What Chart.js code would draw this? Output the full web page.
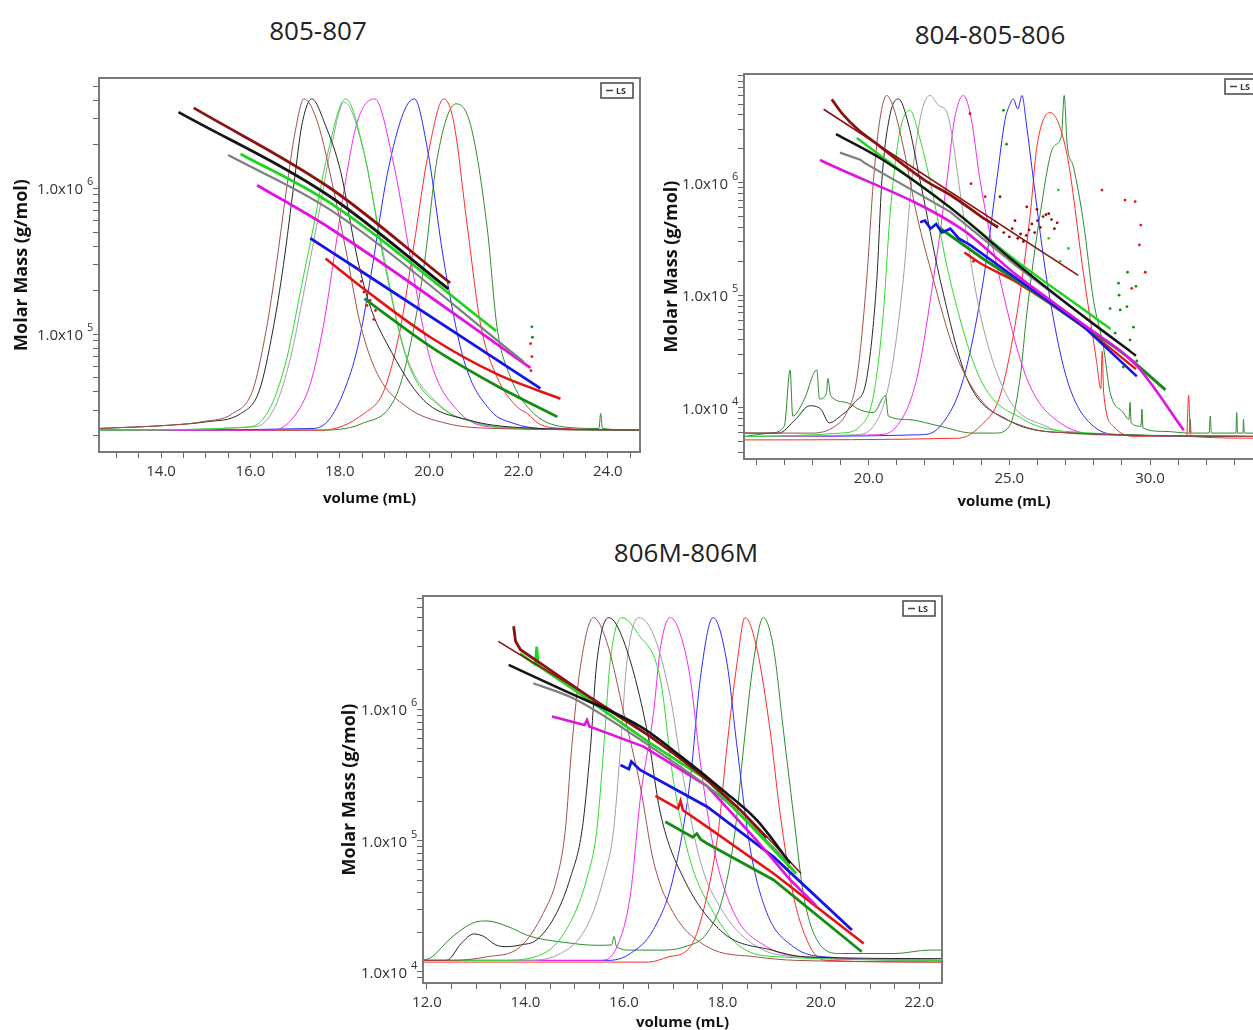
<!DOCTYPE html>
<html>
<head>
<meta charset="utf-8">
<script src="https://cdn.jsdelivr.net/npm/chart.js@4.4.0/dist/chart.umd.min.js"></script>
<style>
  html, body { margin: 0; padding: 0; background: #fff; overflow: hidden; width: 1253px; height: 1030px; }
  canvas { position: absolute; }
  .title { position: absolute; font-family: "Open Sans", sans-serif; font-size: 26px; line-height: 30px;
           color: #222; transform: translateX(-50%); white-space: nowrap; }
</style>
</head>
<body>
<div class="title" style="left:318px; top:15px">805-807</div>
<div class="title" style="left:990px; top:19px">804-805-806</div>
<div class="title" style="left:686px; top:537px">806M-806M</div>
<canvas id="c1" width="648" height="447" style="left:7px; top:65px"></canvas>
<canvas id="c2" width="622" height="454" style="left:657px; top:61px"></canvas>
<canvas id="c3" width="622" height="453" style="left:335px; top:583px"></canvas>
<script>
// ===== panel 1 : 805-807 =====
const p1XTicks = [13, 13.5, 14, 14.5, 15, 15.5, 16, 16.5, 17, 17.5, 18, 18.5, 19, 19.5, 20, 20.5, 21, 21.5, 22, 22.5, 23, 23.5, 24, 24.5];
const p1XLabels = [14, 16, 18, 20, 22, 24];

// LS traces (relative signal, 0 = baseline, 1 = peak top)
const p1LsBrown = [[12.6,0.005],[14.2,0.015],[14.9,0.025],[15.6,0.05],[16.05,0.12],[16.35,0.3],[16.58,0.5],[16.8,0.72],[17.0,0.9],[17.2,1.0],[17.5,0.93],[17.87,0.72],[18.17,0.52],[18.46,0.32],[18.84,0.17],[19.5,0.07],[20.4,0.02],[21.5,0.005],[24.72,0]];
const p1LsBlack = [[12.6,0.005],[14.2,0.015],[15.0,0.025],[15.78,0.05],[16.2,0.12],[16.5,0.3],[16.74,0.5],[16.98,0.75],[17.15,0.92],[17.37,1.0],[17.68,0.92],[18.02,0.78],[18.39,0.52],[18.69,0.37],[19.06,0.26],[19.88,0.09],[20.9,0.03],[22.0,0.008],[24.72,0]];
const p1LsGrey = [[12.6,0],[16.1,0.01],[16.55,0.07],[16.9,0.22],[17.2,0.42],[17.5,0.63],[17.8,0.85],[18.1,0.99],[18.5,0.86],[18.95,0.55],[19.45,0.24],[20.2,0.08],[21.1,0.02],[22.0,0.005],[24.72,0]];
const p1LsLime = [[12.6,0],[16.0,0.01],[16.45,0.07],[16.82,0.22],[17.12,0.42],[17.42,0.62],[17.72,0.83],[18.13,1.0],[18.54,0.84],[18.99,0.51],[19.51,0.21],[20.26,0.07],[21.15,0.02],[22.0,0.005],[24.72,0]];
const p1LsMagenta = [[12.6,0],[16.5,0.0],[16.97,0.04],[17.34,0.14],[17.64,0.32],[17.87,0.52],[18.09,0.72],[18.39,0.93],[18.78,1.0],[19.21,0.8],[19.66,0.46],[20.03,0.21],[20.63,0.06],[21.37,0.01],[24.72,0]];
const p1LsBlue = [[12.6,0],[17.4,0.005],[17.75,0.03],[18.1,0.12],[18.4,0.25],[18.7,0.47],[19.06,0.77],[19.43,0.96],[19.67,1.0],[19.96,0.85],[20.33,0.51],[20.78,0.21],[21.37,0.06],[21.9,0.02],[22.5,0.005],[24.72,0]];
const p1LsRed = [[12.6,0],[17.6,0.0],[18.54,0.05],[18.99,0.12],[19.36,0.31],[19.66,0.56],[19.96,0.82],[20.33,1.0],[20.55,0.93],[20.85,0.62],[21.15,0.32],[21.52,0.16],[21.97,0.07],[22.2,0.05],[22.45,0.02],[23.0,0.005],[24.72,0]];
const p1LsDarkGreen = [[12.6,0],[17.5,0.0],[18.5,0.02],[19.28,0.11],[19.66,0.31],[19.9,0.51],[20.18,0.82],[20.6,0.985],[20.93,0.92],[21.3,0.61],[21.52,0.31],[21.82,0.16],[22.27,0.06],[23.0,0.01],[23.8,0.005],[23.84,0.05],[23.88,0.005],[24.72,0]];

// molar mass (g/mol)
const p1MmDarkRed = [[14.73,3.56e6],[17.79,1.0e6],[20.47,2.24e5]];
const p1MmBlack = [[14.39,3.33e6],[17.79,8.75e5],[20.43,2.04e5]];
const p1MmGrey = [[15.5,1.69e6],[17.79,7.1e5],[22.12,6.45e4]];
const p1MmLime = [[15.78,1.72e6],[17.79,7.9e5],[21.5,1.05e5]];
const p1MmMagenta = [[16.15,1.05e6],[17.79,5.3e5],[22.27,5.85e4]];
const p1MmBlue = [[17.34,4.54e5],[18.54,2.62e5],[22.49,4.24e4]];
const p1MmRed = [[17.68,3.3e5],[18.69,1.88e5],[20.03,9.5e4],[21.52,5.3e4],[22.94,3.6e4]];
const p1MmDarkGreen = [[18.55,1.75e5],[20.03,8.2e4],[21.52,4.4e4],[22.87,2.7e4]];
const p1DotsRed = [[18.43,2.8e5],[18.48,2.3e5],[18.54,1.94e5],[18.61,1.57e5],[18.68,1.7e5],[18.76,1.26e5],[18.8,1.45e5],[22.27,8.6e4],[22.3,7.0e4],[22.28,5.6e4]];
const p1DotsDarkGreen = [[22.3,1.12e5],[22.31,9.5e4]];

// ===== panel 2 : 804-805-806 =====
const p2XTicks = [16, 17, 18, 19, 20, 21, 22, 23, 24, 25, 26, 27, 28, 29, 30, 31, 32, 33, 34];
const p2XLabels = [20, 25, 30];

const p2LsBrown = [[15.57,0.01],[18.0,0.01],[18.8,0.03],[19.22,0.07],[19.58,0.17],[19.93,0.46],[20.17,0.75],[20.4,0.93],[20.64,1.0],[20.9,0.96],[21.23,0.85],[21.71,0.65],[22.3,0.46],[23.01,0.26],[23.96,0.11],[25.5,0.03],[27.3,0.01],[34.05,0.0]];
const p2LsBlack = [[15.57,0.01],[16.8,0.01],[17.4,0.05],[17.9,0.09],[18.3,0.08],[18.6,0.04],[19.0,0.06],[19.5,0.1],[19.93,0.17],[20.29,0.46],[20.47,0.75],[20.75,0.94],[21.06,0.99],[21.4,0.92],[21.83,0.75],[22.54,0.46],[23.49,0.17],[24.91,0.05],[27.3,0.01],[34.05,0.0]];
const p2LsLime = [[15.57,0.0],[19.0,0.01],[19.7,0.03],[20.17,0.12],[20.52,0.36],[20.76,0.65],[21.1,0.89],[21.47,0.956],[21.8,0.88],[22.18,0.75],[22.89,0.46],[23.96,0.17],[25.5,0.05],[27.0,0.015],[34.05,0]];
const p2LsGrey = [[15.57,0],[19.5,0.005],[20.17,0.03],[20.76,0.17],[21.23,0.46],[21.53,0.75],[21.85,0.94],[22.18,1.0],[22.5,0.97],[22.78,0.95],[23.37,0.65],[23.96,0.36],[24.91,0.12],[26.3,0.03],[28.0,0.005],[34.05,0]];
const p2LsMagenta = [[15.57,0],[20.3,0.005],[21.0,0.03],[21.71,0.17],[22.3,0.46],[22.78,0.75],[23.05,0.93],[23.37,1.0],[23.65,0.93],[23.96,0.75],[24.67,0.46],[25.62,0.17],[26.8,0.04],[28.5,0.005],[34.05,0]];
const p2LsBlue = [[15.57,0],[21.8,0.005],[22.54,0.03],[23.37,0.17],[24.08,0.46],[24.55,0.75],[24.85,0.93],[25.0,0.97],[25.14,0.99],[25.3,0.96],[25.45,1.0],[25.6,0.92],[25.86,0.75],[26.33,0.46],[27.04,0.17],[27.99,0.03],[29.0,0.005],[34.05,0]];
const p2LsRed = [[15.57,-0.01],[23.2,-0.005],[23.96,0.03],[24.67,0.12],[25.27,0.36],[25.74,0.65],[25.98,0.85],[26.45,0.95],[27.04,0.83],[27.63,0.48],[28.1,0.22],[28.25,0.14],[28.3,0.25],[28.35,0.13],[28.7,0.03],[29.5,0.0],[31.3,0.0],[31.37,0.12],[31.44,0.0],[34.05,-0.005]];
const p2LsDarkGreen = [[15.57,0.0],[16.5,0.01],[17.0,0.03],[17.21,0.195],[17.3,0.06],[17.7,0.107],[18.16,0.195],[18.25,0.11],[18.5,0.127],[18.55,0.17],[18.65,0.12],[19.2,0.1],[19.7,0.078],[20.17,0.07],[20.6,0.12],[20.7,0.06],[21.35,0.05],[22.54,0.03],[23.7,0.01],[24.5,0.01],[25.0,0.03],[25.38,0.17],[25.62,0.36],[26.09,0.65],[26.57,0.85],[26.85,0.88],[26.95,1.0],[27.05,0.86],[27.28,0.79],[27.63,0.63],[27.99,0.4],[28.35,0.26],[28.58,0.13],[29.05,0.07],[29.25,0.05],[29.29,0.1],[29.33,0.04],[29.68,0.03],[29.71,0.08],[29.75,0.025],[30.5,0.015],[31.4,0.01],[31.43,0.05],[31.46,0.01],[32.1,0.01],[32.14,0.06],[32.18,0.01],[33.05,0.01],[33.08,0.07],[33.11,0.01],[33.3,0.01],[33.32,0.05],[33.35,0.01],[34.05,0.01]];

const p2MmDarkRedFit = [[18.4,4.5e6],[27.45,1.5e5]];
const p2MmDarkRed = [[18.69,5.5e6],[19.1,4.0e6],[19.6,3.0e6],[20.3,2.2e6],[21.0,1.6e6],[22.0,1.05e6],[23.0,7.5e5],[24.0,5.0e5],[24.6,4.0e5]];
const p2MmBlack = [[18.84,2.7e6],[20.5,1.6e6],[22.9,6.0e5],[25.27,1.9e5],[27.63,6.5e4],[29.5,2.9e4]];
const p2MmGrey = [[18.98,1.85e6],[19.7,1.6e6],[19.85,1.5e6],[22.9,5.5e5],[25.27,1.8e5],[27.63,6.5e4],[29.3,3.2e4]];
const p2MmLime = [[19.58,2.5e6],[21.0,1.35e6],[22.9,6.0e5],[25.27,2.0e5],[27.63,7.5e4],[28.6,5.0e4]];
const p2MmMagenta = [[18.27,1.59e6],[23.26,3.95e5],[25.27,1.5e5],[27.63,5.5e4],[29.5,2.4e4],[31.2,6.3e3]];
const p2MmBlue = [[21.83,4.45e5],[22.0,4.6e5],[22.2,3.9e5],[22.4,4.3e5],[22.6,3.6e5],[22.9,3.9e5],[23.2,3.2e5],[23.6,2.8e5],[25.27,1.4e5],[27.63,5.3e4],[29.53,1.9e4]];
const p2MmRed = [[23.4,2.4e5],[24.0,1.9e5],[25.27,1.3e5],[27.63,5.2e4],[29.5,2.2e4]];
const p2MmDarkGreen = [[22.5,4.0e5],[24.08,2.1e5],[25.27,1.35e5],[27.63,5.3e4],[29.0,3.1e4],[30.55,1.44e4]];
const p2DotsRed = [[23.6,4.1e6],[23.64,9.8e5],[24.14,7.5e5],[23.72,2.0e5],[28.29,8.6e5],[29.11,7.0e5],[29.47,6.8e5],[29.67,4.2e5],[29.62,2.8e5],[29.83,1.6e5],[29.35,1.15e5]];
const p2DotsDarkGreen = [[28.88,1.28e5],[28.94,7.4e4],[29.18,7.9e4],[29.41,5.2e4],[29.29,4.0e4],[28.76,4.6e4],[29.53,2.6e4],[29.05,2.3e4],[28.58,7.6e4],[29.5,1.2e5],[28.9,1.0e5],[29.2,1.6e5],[24.79,4.4e6],[24.9,2.2e6]];
const p2DotsDarkRed = [[24.67,7.5e5],[24.55,4.1e5],[25.62,6.1e5],[25.98,5.8e5],[25.2,4.6e5],[26.3,5.2e5],[24.8,3.6e5],[25.0,3.3e5],[25.1,3.9e5],[25.3,3.2e5],[25.4,3.5e5],[25.5,3.0e5],[25.6,3.4e5],[25.7,3.8e5],[25.8,4.3e5],[25.9,3.6e5],[26.0,4.6e5],[26.1,4.0e5],[26.2,5.0e5],[26.4,5.3e5],[26.5,4.7e5],[26.6,3.9e5],[26.7,4.4e5]];
const p2DotsLime = [[26.74,8.6e5],[26.4,3.2e5],[26.8,2.0e5],[27.1,2.6e5]];

// ===== panel 3 : 806M-806M =====
const p3XTicks = [12, 12.5, 13, 13.5, 14, 14.5, 15, 15.5, 16, 16.5, 17, 17.5, 18, 18.5, 19, 19.5, 20, 20.5, 21, 21.5, 22];
const p3XLabels = [12, 14, 16, 18, 20, 22];

const p3LsBrown = [[11.92,0],[12.5,0.0],[13.2,0.01],[13.9,0.04],[14.37,0.14],[14.64,0.24],[14.81,0.38],[14.94,0.62],[15.11,0.85],[15.38,1.0],[15.65,0.93],[16.0,0.72],[16.33,0.51],[16.6,0.29],[17.0,0.14],[17.69,0.04],[18.7,0.01],[19.5,0.0],[22.46,-0.005]];
const p3LsBlack = [[11.92,0],[12.4,0.0],[12.7,0.05],[12.95,0.077],[13.15,0.07],[13.4,0.045],[13.62,0.04],[13.9,0.045],[14.23,0.06],[14.64,0.14],[14.91,0.24],[15.15,0.38],[15.32,0.62],[15.45,0.87],[15.69,1.0],[16.0,0.93],[16.47,0.67],[16.74,0.43],[17.21,0.24],[18.02,0.08],[19.0,0.03],[19.7,0.01],[22.46,0.005]];
const p3LsLime = [[11.92,0],[13.5,0.0],[14.37,0.02],[14.91,0.11],[15.25,0.24],[15.45,0.38],[15.59,0.62],[15.72,0.87],[15.96,1.0],[16.3,0.95],[16.74,0.82],[17.0,0.53],[17.35,0.29],[17.82,0.14],[18.36,0.04],[19.2,0.01],[22.46,0]];
const p3LsGrey = [[11.92,0],[14.0,0],[14.64,0.015],[15.25,0.1],[15.59,0.24],[15.79,0.38],[15.93,0.62],[16.06,0.87],[16.3,1.0],[16.6,0.95],[16.94,0.77],[17.21,0.53],[17.55,0.29],[18.02,0.14],[18.7,0.04],[19.6,0.01],[22.46,0]];
const p3LsMagenta = [[11.92,0],[15.5,0.0],[15.86,0.04],[16.13,0.19],[16.34,0.48],[16.6,0.72],[16.74,0.91],[16.94,1.0],[17.15,0.95],[17.35,0.82],[17.55,0.58],[17.82,0.33],[18.23,0.14],[18.9,0.04],[19.7,0.01],[22.46,0]];
const p3LsBlue = [[11.92,0],[15.7,0.0],[16.13,0.02],[16.6,0.09],[17.0,0.24],[17.35,0.53],[17.55,0.82],[17.81,1.0],[18.09,0.87],[18.3,0.62],[18.56,0.33],[18.9,0.14],[19.44,0.04],[20.1,0.01],[22.46,0]];
const p3LsRed = [[11.92,-0.005],[16.5,-0.005],[16.9,0.01],[17.35,0.04],[17.69,0.19],[17.92,0.38],[18.09,0.62],[18.3,0.87],[18.46,1.0],[18.7,0.91],[18.97,0.67],[19.17,0.43],[19.44,0.19],[19.78,0.04],[20.1,0.0],[22.46,-0.005]];
const p3LsDarkGreen = [[11.92,0.0],[12.1,0.01],[12.47,0.063],[12.95,0.11],[13.22,0.115],[13.62,0.1],[14.1,0.07],[14.77,0.053],[15.45,0.044],[15.75,0.045],[15.8,0.07],[15.85,0.04],[16.13,0.03],[16.8,0.03],[17.24,0.04],[17.69,0.08],[18.02,0.19],[18.26,0.38],[18.43,0.62],[18.63,0.87],[18.83,1.0],[19.04,0.91],[19.24,0.67],[19.44,0.43],[19.65,0.19],[19.92,0.06],[20.39,0.02],[21.5,0.02],[22.2,0.03],[22.46,0.03]];

const p3MmDarkRedFit = [[13.45,3.3e6],[16.54,6.2e5],[18.37,1.7e5],[19.6,5.6e4]];
const p3MmDarkRed = [[13.76,4.3e6],[13.8,3.3e6],[13.9,2.85e6],[14.5,2.0e6],[15.5,1.1e6],[16.54,6.2e5],[17.5,3.4e5],[18.37,1.7e5],[18.9,1.05e5]];
const p3MmBlack = [[13.66,2.18e6],[14.77,1.4e6],[16.33,7.4e5],[17.15,4.4e5],[18.02,2.4e5],[18.7,1.43e5],[19.38,6.7e4]];
const p3MmGrey = [[14.16,1.58e6],[15.0,1.2e6],[16.54,5.2e5],[18.0,2.1e5],[19.3,7.0e4]];
const p3MmLime = [[13.89,2.67e6],[14.2,2.2e6],[14.23,3.0e6],[14.26,2.15e6],[15.0,1.4e6],[16.54,5.5e5],[17.69,2.9e5],[19.5,5.6e4]];
const p3MmMagenta = [[14.54,8.8e5],[15.2,7.6e5],[15.25,8.3e5],[15.3,7.4e5],[16.4,5.2e5],[17.69,2.6e5],[18.7,1.0e5],[19.38,5.0e4],[19.9,3.2e4]];
const p3MmBlue = [[15.93,3.76e5],[16.1,3.5e5],[16.15,4.0e5],[16.33,3.45e5],[17.69,1.81e5],[19.04,7.5e4],[20.63,2.08e4]];
const p3MmRed = [[16.64,2.19e5],[17.1,1.75e5],[17.15,2.0e5],[17.2,1.7e5],[17.69,1.27e5],[19.04,5.6e4],[20.87,1.64e4]];
const p3MmDarkGreen = [[16.84,1.39e5],[17.4,1.06e5],[17.48,1.13e5],[17.56,1.02e5],[17.69,9.5e4],[19.04,5.0e4],[20.83,1.42e4]];

// ===== styles =====
const lsColors = { brown: "#a3504a", black: "#262626", grey: "#a0a0a0", lime: "#2add2a", magenta: "#f229f2",
                   blue: "#2a2aff", red: "#ff2a2a", darkgreen: "#2e8a2e" };
const mmColors = { darkred: "#8c1212", black: "#141414", grey: "#7f7f7f", lime: "#1fd41f", magenta: "#e014e0",
                   blue: "#1414e6", red: "#e41414", darkgreen: "#168c16" };
const FONT = '"Open Sans", "DejaVu Sans", sans-serif';

const pts = arr => arr.map(([x, y]) => ({ x, y }));

function lsSet(key, arr) {
  return { data: pts(arr), yAxisID: "ls", borderColor: lsColors[key], borderWidth: 1, pointRadius: 0,
           cubicInterpolationMode: "monotone", order: 2 };
}
// smooth = true for fitted curves, false where the trace has sharp blips
function mmSet(key, arr, width, smooth = true) {
  const ds = { data: pts(arr), yAxisID: "y", borderColor: mmColors[key], borderWidth: width, pointRadius: 0,
               tension: 0, order: 0 };
  if (smooth) ds.cubicInterpolationMode = "monotone";
  return ds;
}
function dotSet(key, arr) {
  return { data: pts(arr), yAxisID: "y", showLine: false, pointRadius: 1.4, pointBorderWidth: 0,
           pointBackgroundColor: mmColors[key], borderColor: mmColors[key], order: 0 };
}

function logTicks(min, max) {
  const out = [];
  for (let e = Math.floor(Math.log10(min)); e <= Math.ceil(Math.log10(max)); e++) {
    for (let m = 1; m <= 9; m++) {
      const v = m * Math.pow(10, e);
      if (v >= min && v <= max) out.push(v);
    }
  }
  return out;
}

// frame round the plot area
const frame = {
  id: "frame",
  afterDatasetsDraw(chart) {
    const { ctx, chartArea: a } = chart;
    ctx.save();
    ctx.strokeStyle = "#7a7a7a";
    ctx.lineWidth = 2;
    ctx.strokeRect(a.left, a.top, a.right - a.left, a.bottom - a.top);
    ctx.restore();
  }
};

// "1.0x10" with a raised exponent on every decade
const decadeLabels = {
  id: "decadeLabels",
  afterDraw(chart) {
    const { ctx, chartArea: a, scales: { y } } = chart;
    ctx.save();
    ctx.fillStyle = "#333";
    ctx.textBaseline = "alphabetic";
    y.ticks.forEach(t => {
      const e = Math.round(Math.log10(t.value));
      if (Math.abs(t.value - Math.pow(10, e)) > 1e-6 * t.value) return;
      const py = y.getPixelForValue(t.value);
      ctx.font = "11px " + FONT;
      ctx.textAlign = "left";
      ctx.fillText(String(e), a.left - 12, py - 3);
      ctx.font = "15px " + FONT;
      ctx.textAlign = "right";
      ctx.fillText("1.0x10", a.left - 16, py + 6);
    });
    ctx.restore();
  }
};

// small "— LS" legend box, top right
const lsLegend = {
  id: "lsLegend",
  afterDraw(chart) {
    const { ctx, chartArea: a } = chart;
    const w = 32, h = 15, x = a.right - 39, y = a.top + 5;
    ctx.save();
    ctx.fillStyle = "#fff";
    ctx.fillRect(x, y, w, h);
    ctx.strokeStyle = "#444";
    ctx.lineWidth = 1.5;
    ctx.strokeRect(x, y, w, h);
    ctx.beginPath();
    ctx.moveTo(x + 5, y + h / 2);
    ctx.lineTo(x + 12, y + h / 2);
    ctx.stroke();
    ctx.fillStyle = "#333";
    ctx.font = "bold 9px " + FONT;
    ctx.textBaseline = "middle";
    ctx.fillText("LS", x + 15, y + h / 2 + 0.5);
    ctx.restore();
  }
};

function makeChart(id, cfg) {
  const grid = { drawOnChartArea: false, drawTicks: true, tickLength: 6, color: "#666" };
  new Chart(document.getElementById(id), {
    type: "line",
    data: { datasets: cfg.datasets },
    options: {
      responsive: false,
      animation: false,
      events: [],
      layout: { padding: { top: 13, right: 15, left: 0, bottom: 0 } },
      plugins: { legend: { display: false }, tooltip: { enabled: false } },
      scales: {
        x: {
          type: "linear", min: cfg.xMin, max: cfg.xMax,
          grid, border: { display: false },
          afterBuildTicks: s => { s.ticks = cfg.xTicks.map(v => ({ value: v })); },
          afterFit: s => { s.height = cfg.xAxisHeight; },
          ticks: {
            autoSkip: false, maxRotation: 0, padding: 5, color: "#333",
            font: { family: FONT, size: 15 },
            callback: v => cfg.xLabels.includes(v) ? v.toFixed(1) : ""
          },
          title: { display: true, text: "volume (mL)", color: "#111", padding: { top: 0, bottom: 4 },
                   font: { family: FONT, size: 15, weight: "bold" } }
        },
        y: {
          type: "logarithmic", min: cfg.yMin, max: cfg.yMax,
          grid, border: { display: false },
          afterBuildTicks: s => { s.ticks = logTicks(cfg.yMin, cfg.yMax).map(v => ({ value: v })); },
          afterFit: s => { s.width = cfg.yAxisWidth; },
          ticks: { autoSkip: false, callback: () => "" },
          title: { display: true, text: "Molar Mass (g/mol)", color: "#111", padding: { top: 4, bottom: 0 },
                   font: { family: FONT, size: 18, weight: "bold" } }
        },
        ls: { type: "linear", display: false, min: -0.066, max: 1.063 }
      }
    },
    plugins: [frame, decadeLabels, lsLegend]
  });
}

makeChart("c1", {
  xMin: 12.61, xMax: 24.72, yMin: 1.55e4, yMax: 5.71e6,
  xTicks: p1XTicks, xLabels: p1XLabels, xAxisHeight: 60, yAxisWidth: 92,
  datasets: [
    dotSet("red", p1DotsRed), dotSet("darkgreen", p1DotsDarkGreen),
    mmSet("darkred", p1MmDarkRed, 2.8), mmSet("black", p1MmBlack, 2.8), mmSet("lime", p1MmLime, 2.8),
    mmSet("grey", p1MmGrey, 2.2), mmSet("magenta", p1MmMagenta, 2.8), mmSet("blue", p1MmBlue, 2.8),
    mmSet("red", p1MmRed, 2.6), mmSet("darkgreen", p1MmDarkGreen, 2.8),
    lsSet("brown", p1LsBrown), lsSet("black", p1LsBlack), lsSet("lime", p1LsLime), lsSet("grey", p1LsGrey),
    lsSet("magenta", p1LsMagenta), lsSet("blue", p1LsBlue), lsSet("red", p1LsRed), lsSet("darkgreen", p1LsDarkGreen)
  ]
});

makeChart("c2", {
  xMin: 15.57, xMax: 34.05, yMin: 3.5e3, yMax: 9.25e6,
  xTicks: p2XTicks, xLabels: p2XLabels, xAxisHeight: 56, yAxisWidth: 87,
  datasets: [
    dotSet("red", p2DotsRed), dotSet("darkgreen", p2DotsDarkGreen), dotSet("darkred", p2DotsDarkRed), dotSet("lime", p2DotsLime),
    mmSet("darkred", p2MmDarkRed, 2.8), mmSet("darkred", p2MmDarkRedFit, 1.6), mmSet("black", p2MmBlack, 2.4),
    mmSet("magenta", p2MmMagenta, 2.6), mmSet("blue", p2MmBlue, 2.6, false), mmSet("darkgreen", p2MmDarkGreen, 3),
    mmSet("lime", p2MmLime, 2.4), mmSet("grey", p2MmGrey, 2.2, false), mmSet("red", p2MmRed, 2.4),
    lsSet("brown", p2LsBrown), lsSet("black", p2LsBlack), lsSet("lime", p2LsLime), lsSet("grey", p2LsGrey),
    lsSet("magenta", p2LsMagenta), lsSet("blue", p2LsBlue), lsSet("red", p2LsRed), lsSet("darkgreen", p2LsDarkGreen)
  ]
});

makeChart("c3", {
  xMin: 11.92, xMax: 22.46, yMin: 8.2e3, yMax: 7.31e6,
  xTicks: p3XTicks, xLabels: p3XLabels, xAxisHeight: 53, yAxisWidth: 88,
  datasets: [
    mmSet("black", p3MmBlack, 2.6), mmSet("darkred", p3MmDarkRed, 2.8, false), mmSet("darkred", p3MmDarkRedFit, 1.6),
    mmSet("lime", p3MmLime, 2.8, false), mmSet("grey", p3MmGrey, 2.2), mmSet("magenta", p3MmMagenta, 2.6, false),
    mmSet("blue", p3MmBlue, 2.8, false), mmSet("red", p3MmRed, 2.6, false), mmSet("darkgreen", p3MmDarkGreen, 2.8, false),
    lsSet("brown", p3LsBrown), lsSet("black", p3LsBlack), lsSet("lime", p3LsLime), lsSet("grey", p3LsGrey),
    lsSet("magenta", p3LsMagenta), lsSet("blue", p3LsBlue), lsSet("red", p3LsRed), lsSet("darkgreen", p3LsDarkGreen)
  ]
});
</script>
</body>
</html>
